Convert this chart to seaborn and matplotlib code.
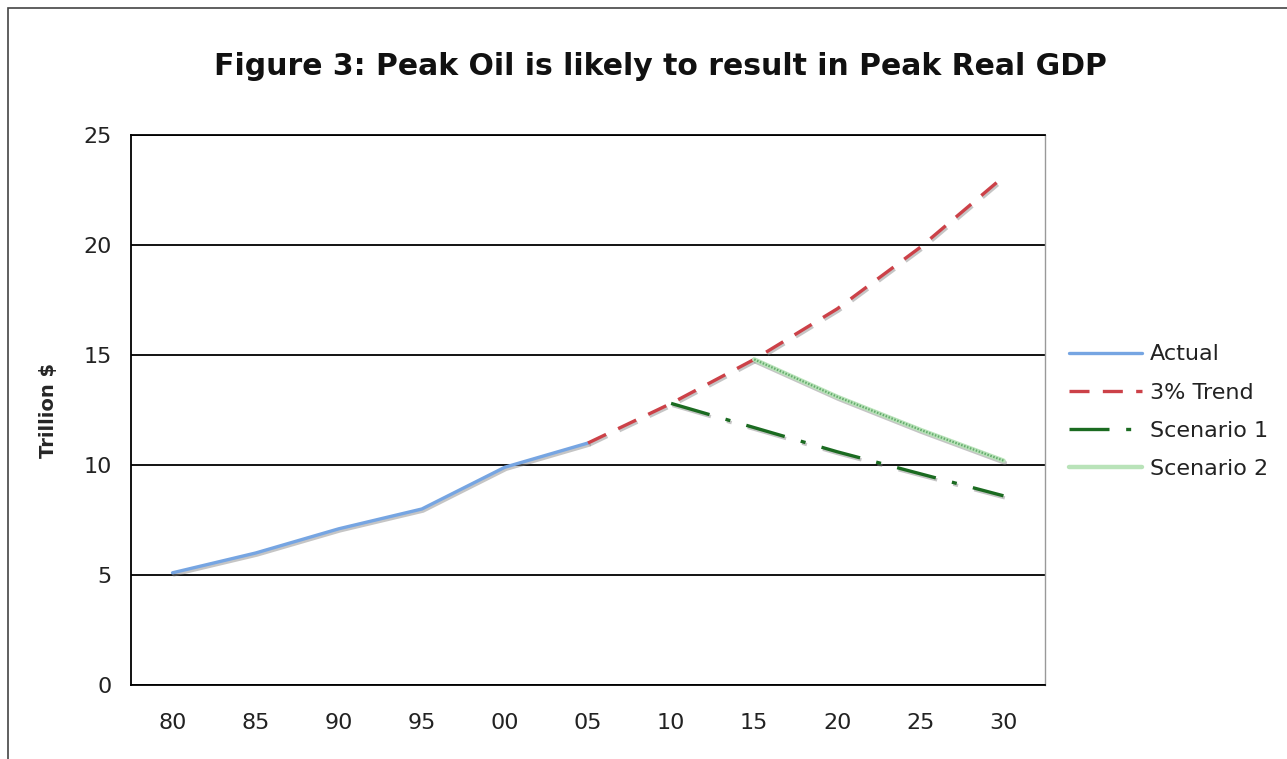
import numpy as np
import pandas as pd
import matplotlib.pyplot as plt
import matplotlib.patheffects as pe
from matplotlib.patches import Rectangle
import seaborn as sns

# values (trillion $)
years = ["80", "85", "90", "95", "00", "05", "10", "15", "20", "25", "30"]
actual = [5.1, 6.0, 7.1, 8.0, 9.9, 11.0]            # 80 .. 05
trend = [11.0, 12.8, 14.8, 17.1, 19.9, 23.1]         # 05 .. 30
scenario1 = [12.8, 11.7, 10.6, 9.6, 8.6]             # 10 .. 30
scenario2 = [14.8, 13.1, 11.6, 10.2]                 # 15 .. 30

sns.set_style("white")
plt.rcParams["font.family"] = ["DejaVu Sans"]

fig = plt.figure(figsize=(12.87, 7.59), dpi=100)
ax = fig.add_axes([131 / 1287, 74 / 759, 914 / 1287, 550 / 759])

# outer frame of the picture
fig.patches.append(Rectangle((8 / 1287, -0.01), 1.1, (751 / 759) + 0.01,
                             transform=fig.transFigure, fill=False,
                             edgecolor="#444444", linewidth=1.2))


def series(vals, first):
    start = years.index(first)
    return pd.DataFrame({"x": np.arange(start, start + len(vals)), "y": vals})


shadow = [pe.SimpleLineShadow(offset=(1.0, -1.5), shadow_color="gray", alpha=0.45), pe.Normal()]

d = series(actual, "80")
sns.lineplot(data=d, x="x", y="y", ax=ax, color="#76a5e2", linewidth=2.4,
             label="Actual", path_effects=shadow)
d = series(trend, "05")
sns.lineplot(data=d, x="x", y="y", ax=ax, color="#cc4148", linewidth=2.4,
             linestyle=(0, (6, 4)), label="3% Trend", path_effects=shadow)
d = series(scenario1, "10")
sns.lineplot(data=d, x="x", y="y", ax=ax, color="#1b6b21", linewidth=2.4,
             linestyle=(0, (12, 5, 1.5, 5)), label="Scenario 1", path_effects=shadow)
d = series(scenario2, "15")
sns.lineplot(data=d, x="x", y="y", ax=ax, color="#b9e3b9", linewidth=3.2,
             label="Scenario 2", path_effects=shadow)
ax.plot(d["x"], d["y"], color="#4a9a55", linewidth=1.6, linestyle=(0, (0.7, 0.7)), alpha=0.75)

ax.set_xlim(-0.5, 10.5)
ax.set_ylim(0, 25)
ax.set_yticks(range(0, 26, 5))
ax.yaxis.grid(True, color="black", linewidth=1.3)
ax.set_axisbelow(True)
ax.set_xticks(range(len(years)))
ax.set_xticklabels(years)
ax.set_xticks(np.arange(-0.5, 11, 1), minor=True)
ax.tick_params(axis="x", which="major", length=0, labelsize=16, pad=20)
ax.tick_params(axis="x", which="minor", length=6, width=1.3, color="black", direction="out")
ax.tick_params(axis="y", length=6, width=1.3, color="black", direction="out", labelsize=16, pad=8)
plt.setp(ax.get_xticklabels(), color="#222222")
plt.setp(ax.get_yticklabels(), color="#222222")

for s in ["left", "bottom"]:
    ax.spines[s].set_color("black")
    ax.spines[s].set_linewidth(1.3)
ax.spines["top"].set_color("black")
ax.spines["top"].set_linewidth(1.3)
ax.spines["right"].set_color("#999999")
ax.spines["right"].set_linewidth(1)

ax.set_xlabel("")
ax.set_ylabel("Trillion $", fontsize=14, fontweight="bold", labelpad=18)
fig.text(0.513, 0.913, "Figure 3: Peak Oil is likely to result in Peak Real GDP",
         ha="center", va="center", fontsize=21.5, fontweight="bold", color="#111111")

leg = ax.legend(loc="center left", bbox_to_anchor=(1.004, 0.497), frameon=False,
                fontsize=16, handlelength=3.3, handletextpad=0.35, labelspacing=0.82)
for text in leg.get_texts():
    text.set_color("#222222")
for line in leg.get_lines():
    line.set_path_effects([])

fig.savefig("out.png", dpi=100)
